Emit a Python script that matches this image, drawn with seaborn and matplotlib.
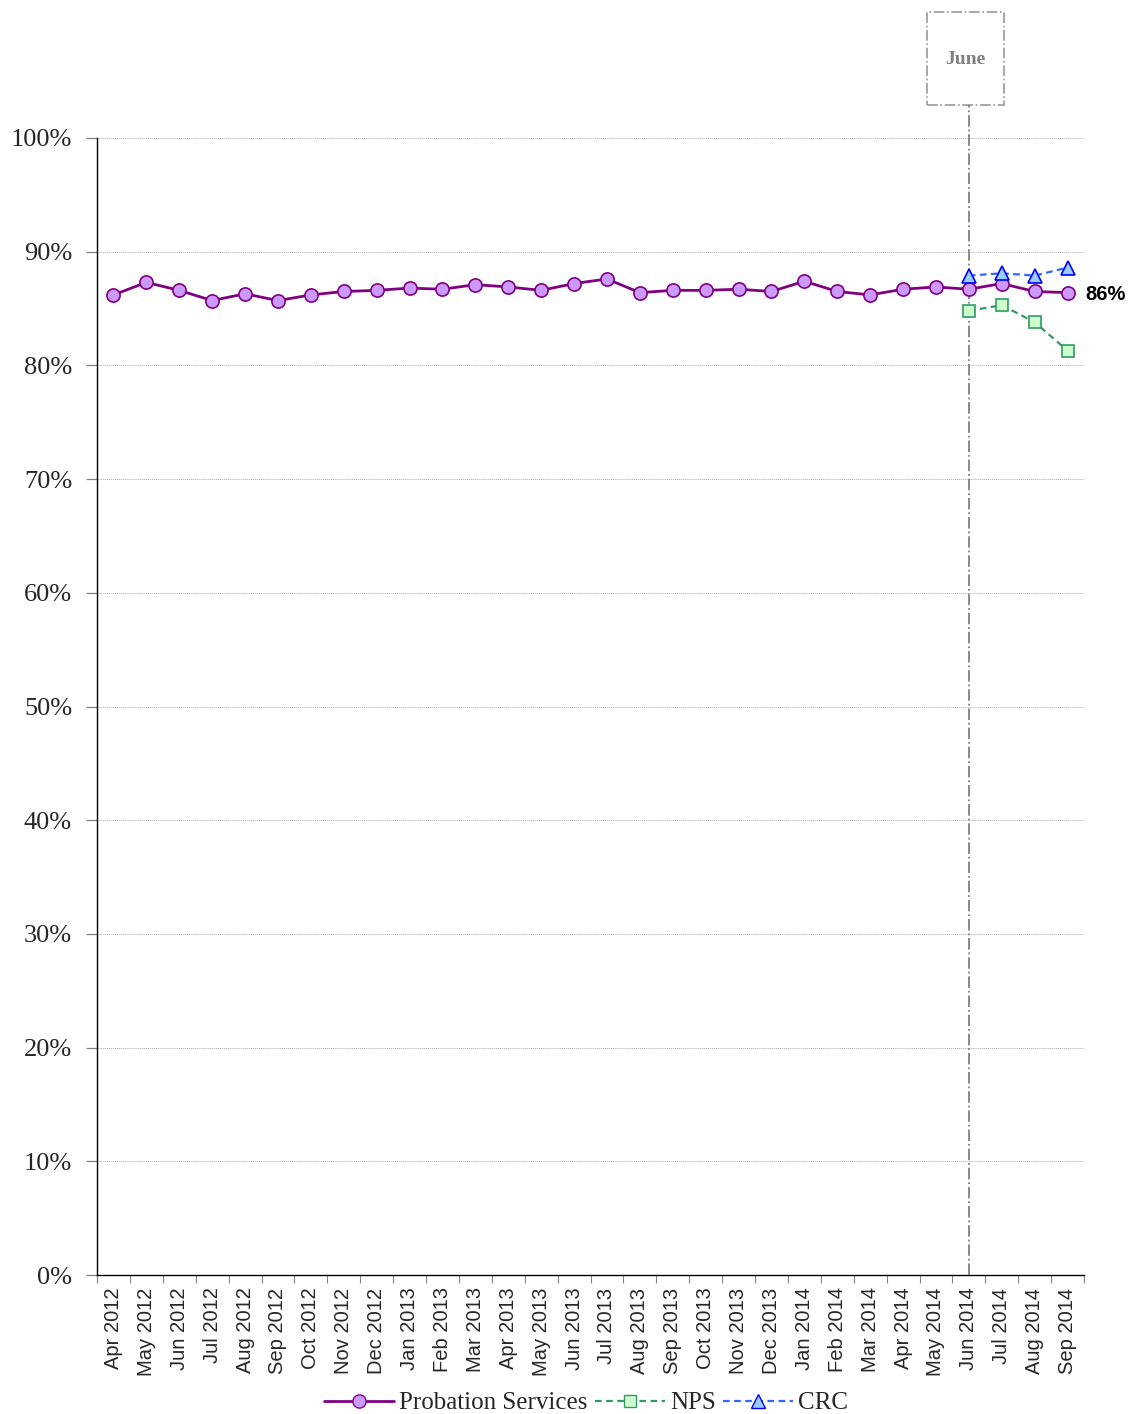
import matplotlib
matplotlib.use("Agg")
import matplotlib.pyplot as plt
import matplotlib.patches as mpatches
from matplotlib.lines import Line2D
import seaborn as sns
import pandas as pd
import numpy as np

months = ["Apr 2012", "May 2012", "Jun 2012", "Jul 2012", "Aug 2012", "Sep 2012",
          "Oct 2012", "Nov 2012", "Dec 2012", "Jan 2013", "Feb 2013", "Mar 2013",
          "Apr 2013", "May 2013", "Jun 2013", "Jul 2013", "Aug 2013", "Sep 2013",
          "Oct 2013", "Nov 2013", "Dec 2013", "Jan 2014", "Feb 2014", "Mar 2014",
          "Apr 2014", "May 2014", "Jun 2014", "Jul 2014", "Aug 2014", "Sep 2014"]

probation = [86.2, 87.3, 86.6, 85.7, 86.3, 85.7, 86.2, 86.5, 86.6, 86.8,
             86.7, 87.1, 86.9, 86.6, 87.2, 87.6, 86.4, 86.6, 86.6, 86.7,
             86.5, 87.4, 86.5, 86.2, 86.7, 86.9, 86.7, 87.2, 86.5, 86.4]

split_months = ["Jun 2014", "Jul 2014", "Aug 2014", "Sep 2014"]
nps = [84.8, 85.3, 83.8, 81.3]
crc = [87.9, 88.1, 87.9, 88.6]

yticks = [0, 10, 20, 30, 40, 50, 60, 70, 80, 90, 100]
marker_label = "June"

sns.set_theme(style="white")
plt.rcParams["font.family"] = ["Liberation Serif", "DejaVu Serif"]

fig = plt.figure(figsize=(11.32, 14.14), dpi=100)
ax = fig.add_axes([97 / 1132, 1 - 1275 / 1414, (1084 - 97) / 1132, (1275 - 138) / 1414])

idx = {m: i for i, m in enumerate(months)}
df_p = pd.DataFrame({"x": range(len(months)), "v": probation})
df_n = pd.DataFrame({"x": [idx[m] for m in split_months], "v": nps})
df_c = pd.DataFrame({"x": [idx[m] for m in split_months], "v": crc})

sns.lineplot(data=df_p, x="x", y="v", ax=ax, color="#800080", lw=2,
             marker="o", markersize=9.5, markerfacecolor="#CC99FF",
             markeredgecolor="#800080", markeredgewidth=1.2, zorder=4)
sns.lineplot(data=df_n, x="x", y="v", ax=ax, color="#339966", lw=1.6,
             linestyle=(0, (3, 2)), marker="s", markersize=9,
             markerfacecolor="#CCFFCC", markeredgecolor="#339966",
             markeredgewidth=1.2, zorder=4)
sns.lineplot(data=df_c, x="x", y="v", ax=ax, color="#3366FF", lw=1.6,
             linestyle=(0, (3, 2)), marker="^", markersize=10,
             markerfacecolor="#99CCFF", markeredgecolor="#0000FF",
             markeredgewidth=1.2, zorder=5)

ax.set_xlim(-0.5, len(months) - 0.5)
ax.set_ylim(0, 100)
ax.set_yticks(yticks)
ax.set_yticklabels([f"{t}%" for t in yticks], fontsize=19)
ax.set_xticks(range(len(months)))
ax.set_xticklabels(months, rotation=90, fontsize=14.5, family=["Liberation Sans"])
ax.set_xticks(np.arange(-0.5, len(months), 1), minor=True)
ax.tick_params(axis="x", which="major", length=0, pad=9)
ax.tick_params(axis="x", which="minor", length=6, width=0.8, color="#808080", direction="out", bottom=True)
ax.tick_params(axis="y", length=8, width=0.9, color="#808080", direction="out", left=True, pad=10)
ax.set_xlabel("")
ax.set_ylabel("")

for t in yticks[1:]:
    ax.axhline(t, color="#AAAAAA", lw=0.7, ls=(0, (1, 1)), zorder=1)

for side in ["top", "right"]:
    ax.spines[side].set_visible(False)
ax.spines["left"].set_color("#000000")
ax.spines["bottom"].set_color("#000000")
ax.spines["left"].set_linewidth(1)
ax.spines["bottom"].set_linewidth(1)

# Service split marker line and label box
xj = idx["Jun 2014"]
ax.plot([xj, xj], [0, 102.9], color="#808080", lw=1.3, ls="-.", clip_on=False, zorder=3)
box = mpatches.Rectangle((xj - 1.27, 102.9), 2.33, 8.2, fill=False,
                         edgecolor="#999999", lw=1.2, ls="-.", clip_on=False)
ax.add_patch(box)
ax.text(xj - 0.1, 106.9, marker_label, ha="center", va="center", fontsize=14,
        fontweight="bold", color="#808080", clip_on=False)

# End-of-series value label
ax.text(len(months) - 1 + 0.55, probation[-1] - 0.2, f"{round(probation[-1])}%", ha="left",
        va="center", fontsize=14.5, fontweight="bold", family=["Liberation Sans"],
        color="black", clip_on=False)

handles = [
    Line2D([], [], color="#800080", lw=2, marker="o", markersize=9.5,
           markerfacecolor="#CC99FF", markeredgecolor="#800080"),
    Line2D([], [], color="#339966", lw=1.6, ls=(0, (3, 2)), marker="s", markersize=9,
           markerfacecolor="#CCFFCC", markeredgecolor="#339966"),
    Line2D([], [], color="#3366FF", lw=1.6, ls=(0, (3, 2)), marker="^", markersize=10,
           markerfacecolor="#99CCFF", markeredgecolor="#0000FF"),
]
leg = fig.legend(handles, ["Probation Services", "NPS", "CRC"], loc="center",
                 bbox_to_anchor=(586 / 1132, 1 - 1403 / 1414), ncol=3, frameon=False,
                 fontsize=18, handlelength=2.8, handletextpad=0.2, columnspacing=0.3)

fig.savefig("out.png", dpi=100)
